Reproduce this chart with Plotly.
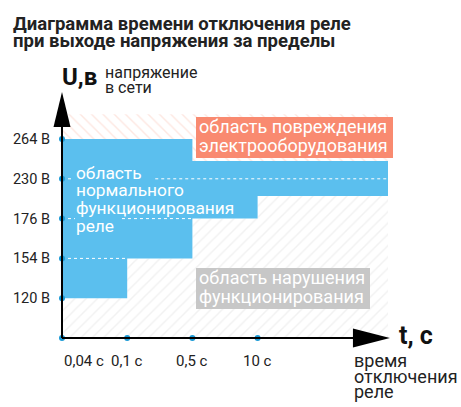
import plotly.graph_objects as go

W, H = 461, 407

# подписи делений осей
voltages = ["120 В", "154 В", "176 В", "230 В", "264 В"]
times = ["0,04 с", "0,1 с", "0,5 с", "10 с"]

# зона нормальной работы реле (в делениях шкал)
step_x = [0, 1, 2, 3, 5]
normal_low = [1, 2, 3, 3.57, 3.57]
normal_high = [5, 5, 4.45, 4.45, 4.45]
damage_top = 5.62

# пунктиры уровней внутри синей зоны: индекс напряжения -> видимые отрезки
guides = {4: [(0, 0.17), (1.43, 5)], 3: [(0, 0.2), (0.92, 2)], 2: [(0, 1)]}

BLUE = "#5bbfee"
DOT = "#1b9ad6"
SALMON = "#f98a70"
GREY = "#c7c7c7"
FONT = "Roboto"

# пиксели начала координат и шаг делений
X0, SX = 62, 65.2
Y0, SY = 338, 39.8
xr = [-X0 / SX, (W - X0) / SX]
yr = [(Y0 - H) / SY, Y0 / SY]

fig = go.Figure()

# область нарушения функционирования (под синей зоной)
fig.add_trace(go.Scatter(x=step_x, y=normal_low, mode="lines", line=dict(width=0, shape="hv"),
                         fill="tozeroy", fillcolor="rgba(0,0,0,0)",
                         fillpattern=dict(shape="/", fgcolor="#e4e4e4", bgcolor="white", size=8, solidity=0.18)))
# область повреждения (над синей зоной)
fig.add_trace(go.Scatter(x=step_x, y=[damage_top] * len(step_x), mode="lines", line=dict(width=0)))
fig.add_trace(go.Scatter(x=step_x, y=normal_high, mode="lines", line=dict(width=0, shape="hv"),
                         fill="tonexty", fillcolor="rgba(0,0,0,0)",
                         fillpattern=dict(shape="\\", fgcolor="#fbd0c4", bgcolor="white", size=8, solidity=0.18)))
# нормальная работа
fig.add_trace(go.Scatter(x=step_x, y=normal_low, mode="lines", line=dict(width=0, shape="hv")))
fig.add_trace(go.Scatter(x=step_x, y=normal_high, mode="lines", line=dict(width=0, shape="hv"),
                         fill="tonexty", fillcolor=BLUE))

for level, segs in guides.items():
    gx, gy = [], []
    for a, b in segs:
        gx += [a, b, None]
        gy += [level, level, None]
    fig.add_trace(go.Scatter(x=gx, y=gy, mode="lines", line=dict(color="white", width=1, dash="dot")))

# оси со стрелками
fig.add_shape(type="line", x0=0, x1=0, y0=0, y1=5.5, line=dict(color="black", width=2))
fig.add_shape(type="line", x0=0, x1=4.6, y0=0, y1=0, line=dict(color="black", width=2))
fig.add_shape(type="path", xsizemode="pixel", ysizemode="pixel", xanchor=0, yanchor=6.18,
              path="M -8.5,-35 L 8.5,-35 L 0,0 Z", fillcolor="black", line=dict(width=0))
fig.add_shape(type="path", xsizemode="pixel", ysizemode="pixel", xanchor=5.03, yanchor=0,
              path="M -37,-9.5 L -37,9.5 L 0,0 Z", fillcolor="black", line=dict(width=0))

# точки делений
vi = list(range(1, len(voltages) + 1))
ti = list(range(len(times)))
fig.add_trace(go.Scatter(x=[0] * len(vi) + ti, y=vi + [0] * len(ti), mode="markers",
                         marker=dict(color=DOT, size=6), cliponaxis=False))


def label(lines, x, y, step, size, color, weight="normal"):
    for i, s in enumerate(lines):
        fig.add_annotation(x=x / W, y=1 - (y + i * step) / H, xref="paper", yref="paper",
                           text=s, showarrow=False, xanchor="left", yanchor="middle",
                           font=dict(family=FONT, size=size, color=color, weight=weight))


# плашки
fig.add_shape(type="rect", xref="paper", yref="paper", x0=196 / W, x1=393 / W,
              y0=1 - 158 / H, y1=1 - 117 / H, fillcolor=SALMON, line=dict(width=0))
fig.add_shape(type="rect", xref="paper", yref="paper", x0=196 / W, x1=370 / W,
              y0=1 - 309 / H, y1=1 - 268 / H, fillcolor=GREY, line=dict(width=0))

label(["Диаграмма времени отключения реле", "при выходе напряжения за пределы"],
      11, 24, 16.7, 18.5, "#222", "bold")
label(["U,в"], 60, 76.7, 0, 24, "#111", "bold")
label(["напряжение", "в сети"], 103, 72.5, 15, 16, "#222")
label(["t, с"], 397, 335.4, 0, 25, "#111", "bold")
label(["время", "отключения", "реле"], 352, 360.5, 15.5, 18, "#222")
label(["область", "нормального", "функционирования", "реле"], 74, 172.5, 17.7, 17.3, "white")
label(["область повреждения", "электрооборудования"], 197, 126.5, 19, 18, "white")
label(["область нарушения", "функционирования"], 197, 277.5, 18.5, 18, "white")

# подписи времени под осью
for i, t in enumerate(times):
    fig.add_annotation(x=i, y=(Y0 - 361) / SY, text=t, showarrow=False,
                       xanchor="left" if i == 0 else "center", yanchor="middle",
                       font=dict(family=FONT, size=15, color="#222"))

fig.update_layout(
    width=W, height=H, margin=dict(l=0, r=0, t=0, b=0),
    plot_bgcolor="white", paper_bgcolor="white", showlegend=False,
    xaxis=dict(range=xr, visible=False, fixedrange=True),
    yaxis=dict(range=yr, anchor="free", position=X0 / W, tickvals=vi, ticktext=voltages,
               showgrid=False, zeroline=False, showline=False, ticks="", automargin=False,
               fixedrange=True, ticklabelstandoff=12,
               tickfont=dict(family=FONT, size=14.5, color="#222")),
)

# убираем отступ страницы, чтобы рисунок лёг с левого верхнего угла
fig.write_html("out.html", config={"displayModeBar": False},
               post_script="document.body.style.margin='0';")
